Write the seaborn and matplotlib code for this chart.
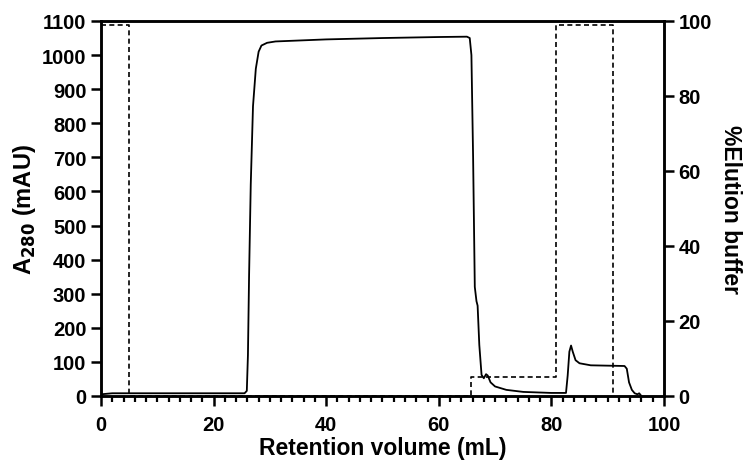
import numpy as np
import pandas as pd
import matplotlib.pyplot as plt
import seaborn as sns
from matplotlib.ticker import MultipleLocator

# A280 trace (mL, mAU)
vol = [0, 2, 10, 25.5, 25.9, 26.1, 26.3, 26.6, 27.0, 27.5, 28.0, 28.5, 29.5, 31,
       40, 50, 60, 65, 65.5, 65.8, 66.1, 66.4, 66.7, 66.9, 67.2, 67.6, 68.0,
       68.4, 68.7, 69.2, 70, 72, 75, 80, 82.6, 82.9, 83.2, 83.5, 83.8, 84.3,
       85, 87, 93, 93.4, 93.8, 94.3, 94.8, 95.3, 95.6, 96]
a280 = [5, 8, 8, 8, 15, 120, 350, 620, 850, 960, 1010, 1028, 1036, 1040,
        1046, 1050, 1053, 1054, 1050, 1000, 700, 320, 278, 265, 150, 62, 52,
        64, 60, 40, 28, 18, 12, 9, 9, 60, 130, 148, 130, 105,
        96, 90, 88, 80, 40, 18, 8, 5, 8, 0]

# %Elution buffer step gradient
grad_vol = [0, 5, 5, 65.7, 65.7, 80.8, 80.8, 91, 91]
grad_pct = [99, 99, 0, 0, 5, 5, 99, 99, 0]

trace = pd.DataFrame({'vol': vol, 'a280': a280})
grad = pd.DataFrame({'vol': grad_vol, 'pct': grad_pct})

sns.set_style('ticks')
plt.rcParams['font.family'] = ['Liberation Sans', 'DejaVu Sans']
plt.rcParams['font.weight'] = 'bold'
for k in ('text.color', 'axes.labelcolor', 'xtick.color', 'ytick.color', 'axes.edgecolor'):
    plt.rcParams[k] = 'black'

fig = plt.figure(figsize=(7.46, 4.64), dpi=100)
ax = fig.add_axes([0.1354, 0.1444, 0.7546, 0.8082])
ax2 = ax.twinx()

sns.lineplot(data=trace, x='vol', y='a280', ax=ax, color='black', lw=1.3,
             estimator=None, sort=False)
sns.lineplot(data=grad, x='vol', y='pct', ax=ax2, color='black', lw=1.2,
             linestyle=(0, (3, 2)), estimator=None, sort=False)

ax.set_xlim(0, 100)
ax.set_ylim(0, 1100)
ax2.set_ylim(0, 100)
ax.xaxis.set_major_locator(MultipleLocator(20))
ax.xaxis.set_minor_locator(MultipleLocator(2))
ax.yaxis.set_major_locator(MultipleLocator(100))
ax2.yaxis.set_major_locator(MultipleLocator(20))

for a in (ax, ax2):
    for s in a.spines.values():
        s.set_linewidth(1.8)
        s.set_visible(True)
        s.set_color('black')
    a.tick_params(which='major', length=7, width=1.8, labelsize=14.5, colors='black')
    a.tick_params(which='minor', length=4.5, width=1.6, colors='black')
ax.tick_params(axis='x', which='major', pad=7)

ax.set_xlabel('Retention volume (mL)', fontsize=16.5, fontweight='bold', labelpad=1)
ax.set_ylabel('A$_{\\mathbf{280}}$ (mAU)', fontsize=17, fontweight='bold', labelpad=3)
ax2.set_ylabel('%Elution buffer', fontsize=16.5, fontweight='bold',
               rotation=270, labelpad=22)

fig.savefig('out.png', dpi=100)
